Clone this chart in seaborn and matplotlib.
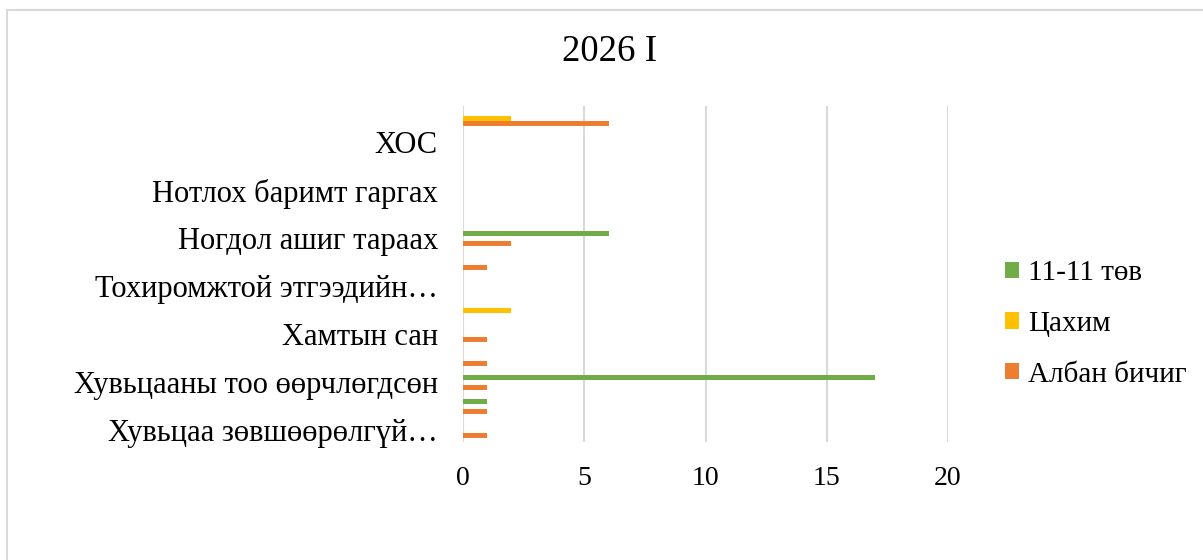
import pandas as pd
import matplotlib.pyplot as plt
import seaborn as sns
from matplotlib.patches import Rectangle, Patch

# categories from top to bottom (only every other one is labelled on the chart)
categories = ['c14', 'ХОС', 'c12', 'Нотлох баримт гаргах', 'c10',
              'Ногдол ашиг тараах', 'c8', 'Тохиромжтой этгээдийн…', 'c6',
              'Хамтын сан', 'c4', 'Хувьцааны тоо өөрчлөгдсөн', 'c2',
              'Хувьцаа зөвшөөрөлгүй…']
tick_labels = ['', 'ХОС', '', 'Нотлох баримт гаргах', '',
               'Ногдол ашиг тараах', '', 'Тохиромжтой этгээдийн…', '',
               'Хамтын сан', '', 'Хувьцааны тоо өөрчлөгдсөн', '',
               'Хувьцаа зөвшөөрөлгүй…']
series = ['11-11 төв', 'Цахим', 'Албан бичиг']
center_vals = [0, 0, 0, 0, 0, 6, 0, 0, 0, 0, 0, 17, 1, 0]
online_vals = [2, 0, 0, 0, 0, 0, 0, 0, 2, 0, 0, 0, 0, 0]
letter_vals = [6, 0, 0, 0, 0, 2, 1, 0, 0, 1, 1, 1, 1, 1]
colors = ['#70AD47', '#FFC000', '#ED7D31']
x_ticks = [0, 5, 10, 15, 20]

df = pd.DataFrame({
    'Category': categories * 3,
    'Series': [series[0]] * 14 + [series[1]] * 14 + [series[2]] * 14,
    'Value': center_vals + online_vals + letter_vals,
})

sns.set_style('white')
plt.rcParams['font.family'] = ['Liberation Serif', 'DejaVu Serif']
plt.rcParams['text.color'] = 'black'
plt.rcParams['xtick.color'] = 'black'
plt.rcParams['ytick.color'] = 'black'

fig = plt.figure(figsize=(12.03, 5.6), dpi=100)
ax = fig.add_axes([463 / 1203, 1 - 442 / 560, 485 / 1203, 336 / 560])

sns.barplot(data=df, y='Category', x='Value', hue='Series', order=categories,
            hue_order=series, palette=colors, saturation=1, orient='h',
            width=0.625, linewidth=0, legend=False, ax=ax)

ax.set_xlim(0, 20)
ax.set_xticks(x_ticks)
ax.set_yticks(range(len(categories)))
ax.set_yticklabels(tick_labels, va='center_baseline')
ax.set_xlabel('')
ax.set_ylabel('')
ax.tick_params(axis='y', labelsize=22, length=0, pad=18)
ax.tick_params(axis='x', labelsize=20, length=0, pad=17)
ax.grid(axis='x', color='#d9d9d9', linewidth=1.5)
ax.grid(axis='y', visible=False)
ax.set_axisbelow(True)
for s in ax.spines.values():
    s.set_visible(False)

handles = [Patch(facecolor=c, edgecolor='none') for c in colors]
fig.legend(handles, series, loc='center left', bbox_to_anchor=(990 / 1203, 1 - 324 / 560),
           frameon=False, fontsize=21, handlelength=0.5, handleheight=0.5,
           handletextpad=0.3, labelspacing=0.84, borderpad=0)

fig.text(610 / 1203, 1 - 52 / 560, '2026 I', ha='center', va='center', fontsize=26.5)

# outer chart border
fig.patches.append(Rectangle((7 / 1203, -0.1), 1.2, 1 - 10 / 560 + 0.1,
                             transform=fig.transFigure, fill=False,
                             edgecolor='#d9d9d9', linewidth=1.5))

fig.savefig('out.png', dpi=100)
